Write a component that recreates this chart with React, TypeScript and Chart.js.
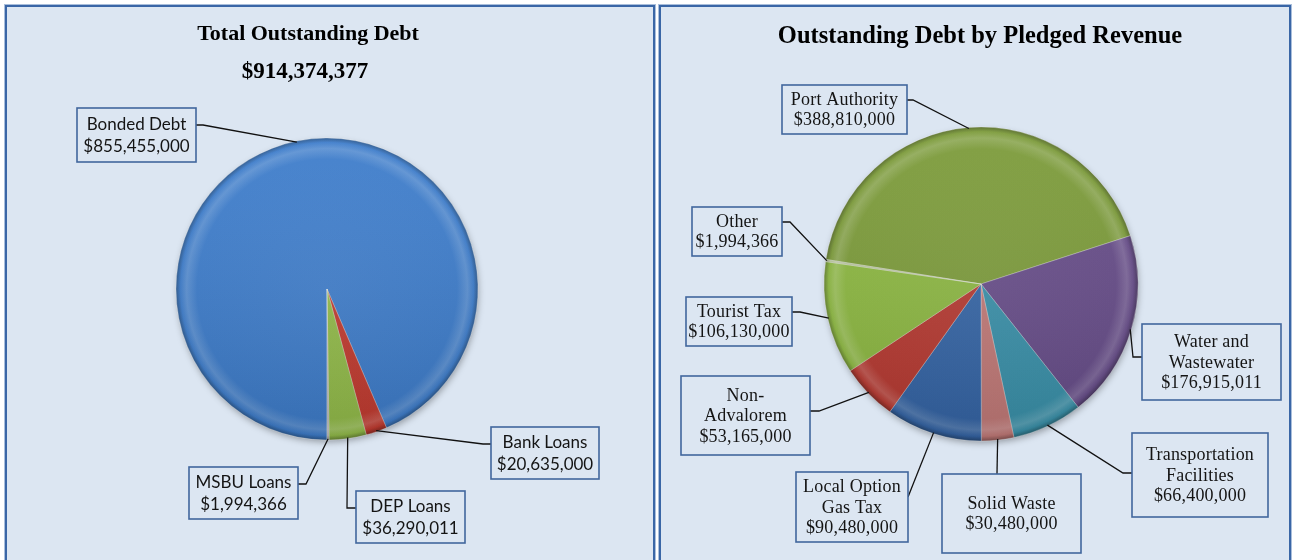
import React, { useEffect, useRef } from "react";
import { Chart, registerables } from "chart.js";

Chart.register(...registerables);

// ---------- DATA ----------
const totalCategories = ["Bonded Debt", "Bank Loans", "DEP Loans", "MSBU Loans"];
const totalValues = [855455000, 20635000, 36290011, 1994366];
const totalTitle = "Total Outstanding Debt";

const pledgedCategories = [
  "Port Authority",
  "Water and Wastewater",
  "Transportation Facilities",
  "Solid Waste",
  "Local Option Gas Tax",
  "Non-Advalorem",
  "Tourist Tax",
  "Other",
];
const pledgedValues = [388810000, 176915011, 66400000, 30480000, 90480000, 53165000, 106130000, 1994366];
const pledgedTitle = "Outstanding Debt by Pledged Revenue";

// how each category name wraps inside its callout box
const totalLabelLines = [["Bonded Debt"], ["Bank Loans"], ["DEP Loans"], ["MSBU Loans"]];
const pledgedLabelLines = [
  ["Port Authority"],
  ["Water and", "Wastewater"],
  ["Transportation", "Facilities"],
  ["Solid Waste"],
  ["Local Option", "Gas Tax"],
  ["Non-", "Advalorem"],
  ["Tourist Tax"],
  ["Other"],
];

// ---------- STYLE / LAYOUT ----------
const totalColors = ["#3e7dcb", "#c23b30", "#93bc4a", "#b4b4b4"];
const pledgedColors = ["#7c9b3a", "#674d89", "#3a91aa", "#c27a78", "#3565a6", "#b73a32", "#8db842", "#b7c49a"];

const PANEL_BG = "#dce6f2";
const BOX_BORDER = "#41679d";

type Callout = { box: [number, number, number, number]; start: [number, number]; elbow?: [number, number] };

// page coordinates
const totalCallouts: Callout[] = [
  { box: [77, 108, 119, 54], start: [196, 125], elbow: [203, 125] },
  { box: [491, 427, 108, 52], start: [491, 444], elbow: [483, 444] },
  { box: [356, 491, 109, 52], start: [356, 508], elbow: [347, 508] },
  { box: [189, 467, 109, 52], start: [298, 484], elbow: [306, 484] },
];
const pledgedCallouts: Callout[] = [
  { box: [782, 85, 125, 49], start: [907, 100], elbow: [913, 100] },
  { box: [1142, 324, 139, 76], start: [1142, 357], elbow: [1133, 357] },
  { box: [1132, 433, 136, 84], start: [1132, 473], elbow: [1123, 473] },
  { box: [942, 474, 139, 79], start: [997, 474] },
  { box: [796, 472, 112, 70], start: [908, 497] },
  { box: [681, 376, 129, 79], start: [810, 411], elbow: [819, 411] },
  { box: [686, 297, 106, 49], start: [792, 312], elbow: [800, 312] },
  { box: [692, 207, 90, 49], start: [782, 222], elbow: [790, 222] },
];

const fmt = (v: number) => "$" + v.toLocaleString("en-US");

function shade(hex: string, amt: number) {
  const n = parseInt(hex.slice(1), 16);
  let r = (n >> 16) & 255,
    g = (n >> 8) & 255,
    b = n & 255;
  const t = amt < 0 ? 0 : 255;
  const p = Math.abs(amt);
  r = Math.round((t - r) * p + r);
  g = Math.round((t - g) * p + g);
  b = Math.round((t - b) * p + b);
  return `rgb(${r},${g},${b})`;
}

type PanelProps = {
  canvasX: number;
  width: number;
  height: number;
  categories: string[];
  values: number[];
  colors: string[];
  labelLines: string[][];
  callouts: Callout[];
  radius: number;
  rotation: number;
  padding: { left: number; right: number; top: number; bottom: number };
  titles: { text: string; x: number; y: number; font: string }[];
  labelFont: string;
  lineHeight: number;
  letterSpacing: string;
};

function PiePanel(p: PanelProps) {
  const ref = useRef<HTMLCanvasElement | null>(null);
  useEffect(() => {
    if (!ref.current) return;
    const ox = p.canvasX;
    const decor = {
      id: "decor",
      beforeDatasetsDraw(chart: any) {
        const a = chart.chartArea;
        const cx = (a.left + a.right) / 2,
          cy = (a.top + a.bottom) / 2;
        const ctx = chart.ctx;
        ctx.save();
        ctx.shadowColor = "rgba(0,0,0,0.35)";
        ctx.shadowBlur = 7;
        ctx.shadowOffsetX = 1;
        ctx.shadowOffsetY = 3;
        ctx.fillStyle = "#888";
        ctx.beginPath();
        ctx.arc(cx, cy, p.radius - 1, 0, Math.PI * 2);
        ctx.fill();
        ctx.restore();
      },
      afterDatasetsDraw(chart: any) {
        const a = chart.chartArea;
        const cx = (a.left + a.right) / 2,
          cy = (a.top + a.bottom) / 2;
        const ctx = chart.ctx;
        ctx.save();
        ctx.beginPath();
        ctx.arc(cx, cy, p.radius, 0, Math.PI * 2);
        ctx.clip();
        const lg = ctx.createLinearGradient(0, cy - p.radius, 0, cy + p.radius);
        lg.addColorStop(0, "rgba(255,255,255,0.06)");
        lg.addColorStop(1, "rgba(0,0,0,0.12)");
        ctx.fillStyle = lg;
        ctx.fillRect(cx - p.radius, cy - p.radius, p.radius * 2, p.radius * 2);
        ctx.restore();

        // callouts
        const meta = chart.getDatasetMeta(0);
        p.callouts.forEach((c, i) => {
          const arc = meta.data[i];
          if (!arc) return;
          const { x, y, startAngle, endAngle, outerRadius } = arc.getProps(
            ["x", "y", "startAngle", "endAngle", "outerRadius"],
            true
          );
          const mid = (startAngle + endAngle) / 2;
          const px = x + Math.cos(mid) * (outerRadius - 1);
          const py = y + Math.sin(mid) * (outerRadius - 1);
          ctx.save();
          ctx.strokeStyle = "#111";
          ctx.lineWidth = 1.3;
          ctx.beginPath();
          ctx.moveTo(c.start[0] - ox, c.start[1]);
          if (c.elbow) ctx.lineTo(c.elbow[0] - ox, c.elbow[1]);
          ctx.lineTo(px, py);
          ctx.stroke();

          const [bx, by, bw, bh] = c.box;
          ctx.fillStyle = PANEL_BG;
          ctx.fillRect(bx - ox, by, bw, bh);
          ctx.strokeStyle = BOX_BORDER;
          ctx.lineWidth = 1.6;
          ctx.strokeRect(bx - ox, by, bw, bh);

          const lines = [...p.labelLines[i], fmt(p.values[i])];
          ctx.fillStyle = "#141414";
          ctx.font = p.labelFont;
          (ctx as any).letterSpacing = p.letterSpacing;
          ctx.textAlign = "center";
          ctx.textBaseline = "middle";
          const y0 = by + bh / 2 - (lines.length * p.lineHeight) / 2 + p.lineHeight / 2 + 1;
          lines.forEach((ln, k) => ctx.fillText(ln, bx - ox + bw / 2, y0 + k * p.lineHeight));
          ctx.restore();
        });
      },
      afterDraw(chart: any) {
        const ctx = chart.ctx;
        ctx.save();
        ctx.fillStyle = "#000";
        ctx.textAlign = "center";
        ctx.textBaseline = "alphabetic";
        p.titles.forEach((t) => {
          ctx.font = t.font;
          ctx.fillText(t.text, t.x - ox, t.y);
        });
        ctx.restore();
      },
    };

    const chart = new Chart(ref.current, {
      type: "pie",
      data: {
        labels: p.categories,
        datasets: [
          {
            data: p.values,
            backgroundColor: (ctx: any) => {
              const base = p.colors[ctx.dataIndex] || "#888";
              const area = ctx.chart.chartArea;
              if (!area) return base;
              const cx = (area.left + area.right) / 2,
                cy = (area.top + area.bottom) / 2;
              const g = ctx.chart.ctx.createRadialGradient(cx, cy, 0, cx, cy, p.radius);
              g.addColorStop(0, shade(base, 0.03));
              g.addColorStop(0.86, base);
              g.addColorStop(0.93, shade(base, 0.16));
              g.addColorStop(0.97, base);
              g.addColorStop(1, shade(base, -0.3));
              return g;
            },
            borderColor: "rgba(255,255,255,0.35)",
            borderWidth: 0.8,
            hoverOffset: 0,
            offset: 0,
          } as any,
        ],
      },
      options: {
        animation: false,
        responsive: false,
        rotation: p.rotation,
        radius: p.radius,
        layout: { padding: p.padding },
        plugins: { legend: { display: false }, tooltip: { enabled: false }, title: { display: false } },
        events: [],
      } as any,
      plugins: [decor],
    });
    return () => chart.destroy();
  }, []);
  return (
    <canvas
      ref={ref}
      width={p.width}
      height={p.height}
      style={{ position: "absolute", left: p.canvasX, top: 0, width: p.width, height: p.height }}
    />
  );
}

export default function App() {
  useEffect(() => {
    document.body.style.margin = "0";
  }, []);
  const total = totalValues.reduce((s, v) => s + v, 0);
  const panel = (left: number, width: number): React.CSSProperties => ({
    position: "absolute",
    left,
    top: 5,
    width,
    height: 620,
    boxSizing: "border-box",
    border: "2px solid #3a66a6",
    boxShadow: "0 0 0 1px #a9bedb",
    background: PANEL_BG,
  });
  return (
    <div
      style={{
        position: "fixed",
        left: 0,
        top: 0,
        width: 1294,
        height: 560,
        overflow: "hidden",
        background: "#ffffff",
      }}
    >
      <div style={panel(5, 650)} />
      <div style={panel(659, 632)} />
      <PiePanel
        canvasX={0}
        width={657}
        height={560}
        categories={totalCategories}
        values={totalValues}
        colors={totalColors}
        labelLines={totalLabelLines}
        callouts={totalCallouts}
        radius={151}
        rotation={180}
        padding={{ left: 176, right: 179, top: 138, bottom: 120 }}
        titles={[
          { text: totalTitle, x: 308, y: 40, font: "bold 22px 'Liberation Serif'" },
          { text: fmt(total), x: 305, y: 78, font: "bold 23px 'Liberation Serif'" },
        ]}
        labelFont="17px Lato"
        lineHeight={22}
        letterSpacing="0px"
      />
      <PiePanel
        canvasX={657}
        width={637}
        height={560}
        categories={pledgedCategories}
        values={pledgedValues}
        colors={pledgedColors}
        labelLines={pledgedLabelLines}
        callouts={pledgedCallouts}
        radius={157}
        rotation={-81}
        padding={{ left: 167, right: 156, top: 127, bottom: 119 }}
        titles={[{ text: pledgedTitle, x: 980, y: 43, font: "bold 24.5px 'Liberation Serif'" }]}
        labelFont="18px 'Liberation Serif'"
        lineHeight={20.5}
        letterSpacing="0.2px"
      />
    </div>
  );
}
